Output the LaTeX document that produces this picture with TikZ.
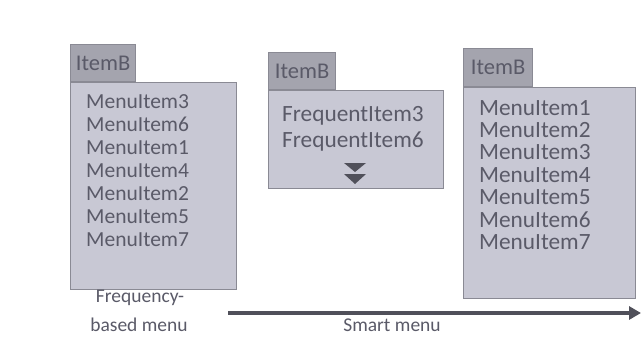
\documentclass[tikz,border=0pt]{standalone}
\usepackage{fontspec}
\setmainfont{Carlito}
\usetikzlibrary{arrows.meta}
\definecolor{tabc}{HTML}{A4A4AE}
\definecolor{boxc}{HTML}{C8C8D4}
\definecolor{linec}{HTML}{8A8A94}
\definecolor{txtc}{HTML}{5A5A68}
\definecolor{arrc}{HTML}{50505A}
\tikzset{
  menubox/.style={draw=linec, line width=1.2pt, fill=boxc, anchor=north west, inner sep=0pt},
  tabbox/.style={draw=linec, line width=1.2pt, fill=tabc, anchor=south west, inner sep=0pt, text=txtc, font=\fontsize{22.5}{23}\selectfont},
  item/.style={anchor=base west, inner sep=0pt, text=txtc, font=\fontsize{21.5}{23}\selectfont},
  bigitem/.style={item, font=\fontsize{23.3}{25}\selectfont},
  lbl/.style={inner sep=0pt, text=txtc, font=\fontsize{19.5}{21}\selectfont},
}
\begin{document}
\begin{tikzpicture}[x=1pt,y=-1pt]
\useasboundingbox (0,0) rectangle (644,345);
\fill[white] (0,0) rectangle (644,345);
% left menu
\node[menubox, minimum width=166pt, minimum height=207pt] (b1) at (70,82) {};
\node[tabbox, minimum width=65pt, minimum height=37pt] (t1) at (70,82) {ItemB};
\foreach \t [count=\i] in {MenuItem3,MenuItem6,MenuItem1,MenuItem4,MenuItem2,MenuItem5,MenuItem7}
  \node[item] (a\i) at (86,{108+(\i-1)*23.1}) {\t};
% middle menu
\node[menubox, minimum width=175pt, minimum height=98pt] (b2) at (268,90) {};
\node[tabbox, minimum width=67pt, minimum height=37pt] (t2) at (268,90) {ItemB};
\node[bigitem] (f1) at (282,121) {FrequentItem3};
\node[bigitem] (f2) at (282,147) {FrequentItem6};
\fill[arrc] (344,163) -- (366,163) -- (355,172) -- cycle;
\fill[arrc] (344,174) -- (366,174) -- (355,184) -- cycle;
% right menu
\node[menubox, minimum width=172pt, minimum height=211pt] (b3) at (463,87) {};
\node[tabbox, minimum width=69pt, minimum height=38pt] (t3) at (463,87) {ItemB};
\foreach \t [count=\i] in {MenuItem1,MenuItem2,MenuItem3,MenuItem4,MenuItem5,MenuItem6,MenuItem7}
  \node[bigitem] (c\i) at (479,{115+(\i-1)*22.4}) {\t};
% labels and arrow
\node[lbl] (l1) at (140,298) {Frequency-};
\node[lbl] (l2) at (139,325) {based menu};
\node[lbl] (l3) at (392,325) {Smart menu};
\coordinate (as) at (228,313);
\coordinate (ae) at (641,313);
\draw[arrc, line width=3.2pt, -{Triangle[length=12pt,width=13pt]}] (as) -- (ae);
\end{tikzpicture}
\end{document}
